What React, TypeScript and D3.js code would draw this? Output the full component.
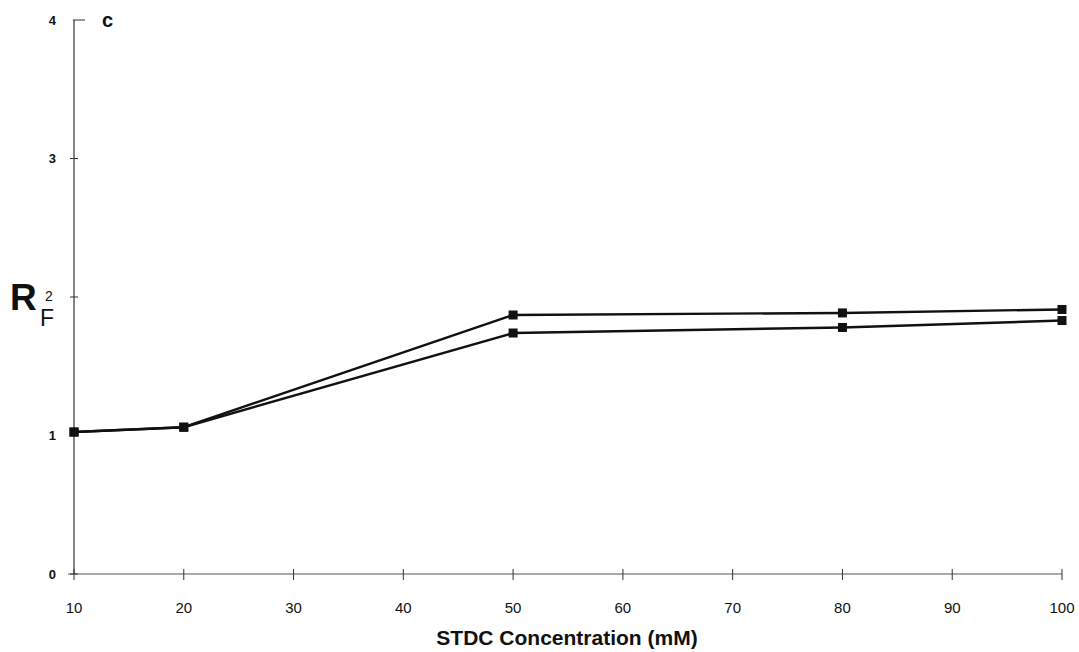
import React from "react";
import * as d3 from "d3";

const concentrations = [10, 20, 50, 80, 100];
const seriesUpper = [1.025, 1.06, 1.87, 1.885, 1.91];
const seriesLower = [1.025, 1.06, 1.74, 1.78, 1.83];
const xTicks = [10, 20, 30, 40, 50, 60, 70, 80, 90, 100];
const yTicks = [0, 1, 2, 3, 4];

const W = 1079;
const H = 652;

export default function App() {
  const x = d3.scaleLinear().domain([10, 100]).range([74, 1062]);
  const y = d3.scaleLinear().domain([0, 4]).range([574, 20]);
  const line = d3
    .line<number>()
    .x((_, i) => x(concentrations[i]))
    .y((d) => y(d));
  const font = "'Liberation Sans', Arial, Helvetica, sans-serif";
  const series = [seriesUpper, seriesLower];
  return (
    <svg
      width={W}
      height={H}
      style={{ position: "absolute", left: 0, top: 0, background: "#fff" }}
      fontFamily={font}
    >
      {/* axes */}
      <line x1={x(10)} x2={x(10)} y1={y(4)} y2={y(0)} stroke="#333" strokeWidth={1.2} />
      <line x1={x(10) - 6} x2={x(100)} y1={y(0)} y2={y(0)} stroke="#555" strokeWidth={1} />
      {yTicks.map((t) => (
        <g key={"yt" + t}>
          <line
            x1={x(10) - (t === 4 ? 1 : 4)}
            x2={x(10) + (t === 4 ? 11 : 4)}
            y1={y(t)}
            y2={y(t)}
            stroke="#333"
            strokeWidth={1}
          />
          {t !== 2 && (
            <text x={56} y={y(t)} dy="0.35em" textAnchor="end" fontSize={13} fontWeight="bold" fill="#111">
              {t}
            </text>
          )}
        </g>
      ))}
      {xTicks.map((t) => (
        <g key={"xt" + t}>
          <line x1={x(t)} x2={x(t)} y1={y(0) - 5} y2={y(0) + 6} stroke="#333" strokeWidth={1} />
          <text x={x(t)} y={613} textAnchor="middle" fontSize={15} fill="#111">
            {t}
          </text>
        </g>
      ))}
      {/* Y label: R_F with tick label 2 */}
      <text x={10} y={310} fontSize={37} fontWeight="bold" fill="#111">
        R
      </text>
      <text x={45} y={301} fontSize={14} fill="#111">
        2
      </text>
      <text x={40} y={326} fontSize={23} fill="#111">
        F
      </text>
      <text x={102} y={27} fontSize={20} fontWeight="bold" fill="#111">
        c
      </text>
      <text x={567} y={645} textAnchor="middle" fontSize={21} fontWeight="bold" fill="#111">
        STDC Concentration (mM)
      </text>
      {/* series */}
      {series.map((s, si) => (
        <g key={"s" + si}>
          <path d={line(s) || ""} fill="none" stroke="#111" strokeWidth={2.4} />
          {s.map((v, i) => (
            <rect
              key={i}
              x={x(concentrations[i]) - 4.5}
              y={y(v) - 4.5}
              width={9}
              height={9}
              fill="#111"
            />
          ))}
        </g>
      ))}
    </svg>
  );
}
